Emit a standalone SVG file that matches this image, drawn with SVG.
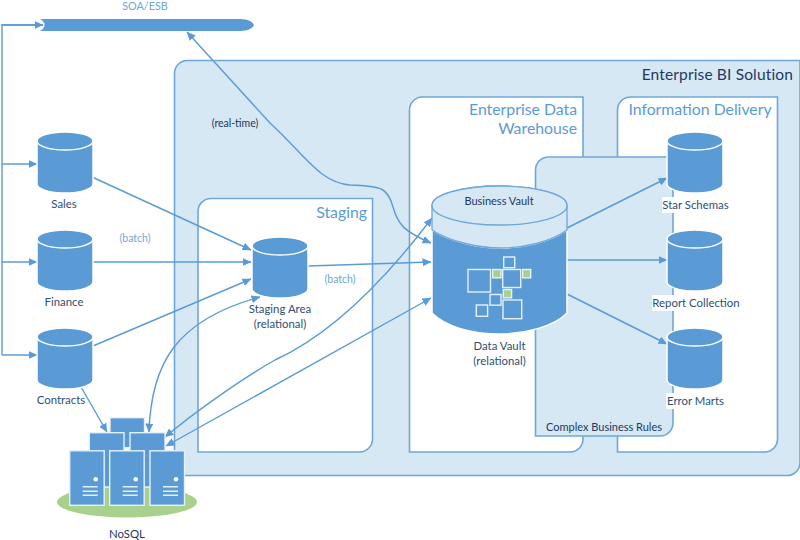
<svg xmlns="http://www.w3.org/2000/svg" width="800" height="540" viewBox="0 0 800 540">
<style>
text{font-family:Lato,"Open Sans","Liberation Sans",sans-serif}
.zone{fill:#fff;stroke:#6fa6d9;stroke-width:1.6}
.lz{fill:#d6e8f3;stroke:#6fa6d9;stroke-width:1.6}
.head{fill:#5b9bd5;font-size:15.8px}
.lab{fill:#2f4e74;font-size:11.400px;text-anchor:middle}
.dark{fill:#1f3864;font-size:11px;text-anchor:middle}
.batch{fill:#6fa6d9;font-size:10.500px;text-anchor:middle}
.c{fill:#5b9bd5;stroke:#fff;stroke-width:1.5}
.s{fill:#5b9bd5;stroke:#e6f0f8;stroke-width:1.4}
.i{fill:none;stroke:#e6f0f8;stroke-width:1.4}
.g{fill:#a9d18e;stroke:#e6f0f8;stroke-width:1.4}
.con{fill:none;stroke:#5b9bd5;stroke-width:1.4;marker-end:url(#a)}
.both{marker-start:url(#b)}
.bus{fill:none;stroke:#7fb0de;stroke-width:1.8}
.sl{stroke:#e6f0f8;stroke-width:1.4}
</style>
<defs>
<marker id="a" markerUnits="userSpaceOnUse" markerWidth="9" markerHeight="8" refX="8.500" refY="4" orient="auto"><path d="M0 0L9 4L0 8z" fill="#5b9bd5"/></marker>
<marker id="b" markerUnits="userSpaceOnUse" markerWidth="9" markerHeight="8" refX="0.500" refY="4" orient="auto"><path d="M9 0L0 4L9 8z" fill="#5b9bd5"/></marker>
<g id="cyl"><path class="c" d="M0 9A28 9 0 0 1 56 9V52A28 9 0 0 1 0 52Z"/><path fill="none" stroke="#fff" stroke-width="1.5" d="M0 9A28 9 0 0 0 56 9"/></g>
<g id="srv"><rect class="s" x="0" y="0" width="34.500" height="54.500"/><circle cx="26" cy="28.500" r="2.300" fill="#fff"/><path class="sl" d="M13 36H28M13 40.500H28M13 44.500H28"/></g>
</defs>

<g id="enterprise-bi"><path class="lz" d="M187 60.500H800V462A13 13 0 0 1 786 475.500H174.500V73A13 13 0 0 1 187 60.500Z"/><text x="793" y="80" text-anchor="end" fill="#1f3864" font-size="15.500" letter-spacing=".15">Enterprise BI Solution</text></g>
<g id="staging"><path class="zone" d="M211 198.500H372.500V439A13 13 0 0 1 360 452H198V211A13 13 0 0 1 211 198.500Z"/><text class="head" x="367" y="218" text-anchor="end">Staging</text></g>
<g id="edw"><path class="zone" d="M422 97H583V439A13 13 0 0 1 570 452H409.500V110A13 13 0 0 1 422 97Z"/><text class="head" x="577" y="115" text-anchor="end">Enterprise Data</text><text class="head" x="577" y="134" text-anchor="end">Warehouse</text></g>
<g id="delivery"><path class="zone" d="M630.500 97H777.500V439A13 13 0 0 1 764.500 452H617.500V110A13 13 0 0 1 630.500 97Z"/><text class="head" x="700" y="115" text-anchor="middle">Information Delivery</text></g>
<g id="business-rules"><path class="lz" d="M548.500 157H673V423A13 13 0 0 1 660 436H535.500V170A13 13 0 0 1 548.500 157Z"/><text class="dark" x="604" y="431">Complex Business Rules</text></g>

<g id="soa-esb"><path fill="#5b9bd5" d="M40 19H240C248 19 253 22 254 25C253 28 248 31 240 31H40C46 28 46 22 40 19Z"/><text x="145" y="10" text-anchor="middle" fill="#6fa6d9" font-size="10.800">SOA/ESB</text></g>

<g id="connectors">
<path class="bus" d="M43 25H2V355"/>
<path class="con" d="M2 25H43"/><path class="con" d="M2 164H37"/><path class="con" d="M2 262H37"/><path class="con" d="M2 355H37"/>
<path class="con" d="M92 177L251 250"/>
<path class="con" d="M93 262H251"/>
<path class="con" d="M93 346L251 279"/>
<path class="con" d="M81 387L107 432"/>
<path class="con both" d="M149 432C151 365 175 320 260 297"/>
<path class="con both" d="M165 437C195 412 240 380 275 360C330 335 385 280 432 218"/>
<path class="con both" d="M166 446L431 298"/>
<path class="con" d="M308 266L431 262"/>
<path class="con both" d="M431 243C405 232 398 225 393 207C388 188 382 186 350 185C320 183 305 155 270 123L187 32"/>
<path class="con" d="M567 228L667 178"/>
<path class="con" d="M567 260H667"/>
<path class="con" d="M567 294L667 344"/>
</g>

<g id="sales"><use href="#cyl" x="37" y="132"/><text class="lab" x="64" y="208">Sales</text></g>
<g id="finance"><use href="#cyl" x="37" y="230"/><text class="lab" x="64" y="306">Finance</text></g>
<g id="contracts"><use href="#cyl" x="37" y="328"/><text class="lab" x="61" y="404">Contracts</text></g>
<g id="staging-area"><use href="#cyl" x="252" y="237"/><text class="lab" x="280" y="313">Staging Area</text><text class="lab" x="280" y="328">(relational)</text></g>
<g id="star-schemas"><use href="#cyl" x="667" y="132"/><rect x="662" y="197" width="68" height="16" fill="#fff"/><text class="lab" x="695.500" y="209">Star Schemas</text></g>
<g id="report-collection"><use href="#cyl" x="667" y="230"/><rect x="652" y="295" width="88" height="16" fill="#fff"/><text class="lab" x="696" y="307">Report Collection</text></g>
<g id="error-marts"><use href="#cyl" x="667" y="328"/><rect x="666" y="393" width="60" height="16" fill="#fff"/><text class="lab" x="695.500" y="405">Error Marts</text></g>

<g id="data-vault">
<path fill="#5b9bd5" stroke="#fff" stroke-width="1.500" d="M432 230C450 242 480 248 500 248C525 248 550 242 567 230V313C555 326 525 334 500 334C470 334 445 326 432 313Z"/>
<path fill="#d6e8f3" stroke="#6fa6d9" stroke-width="1.300" d="M432 205.500V230C450 242 480 248 500 248C525 248 550 242 567 230V205.500A67.500 19.500 0 0 0 432 205.500Z"/>
<ellipse cx="499.500" cy="205.500" rx="67.500" ry="19.500" fill="#d6e8f3" stroke="#6fa6d9" stroke-width="1.300"/>
<rect class="i" x="468" y="269.500" width="22.500" height="22.500"/><rect class="i" x="503.700" y="257" width="11" height="10.700"/><rect class="i" x="502.700" y="269.500" width="18" height="18"/><rect class="g" x="492.700" y="269.500" width="8.300" height="8.300"/><rect class="g" x="522.700" y="269.500" width="8" height="8.300"/><rect class="g" x="503.300" y="289.500" width="8.300" height="8.300"/><rect class="i" x="490" y="294.500" width="11" height="10.700"/><rect class="i" x="476.300" y="305" width="11.300" height="11.300"/><rect class="i" x="503" y="300" width="18.700" height="18.700"/>
<text class="dark" x="499" y="205">Business Vault</text>
<text class="lab" x="499.500" y="350">Data Vault</text><text class="lab" x="499.500" y="365">(relational)</text>
</g>

<g id="nosql">
<ellipse cx="127" cy="502" rx="70" ry="15.500" fill="#a9d18e"/>
<rect class="s" x="110" y="417.700" width="34.500" height="30"/>
<rect class="s" x="89.300" y="432.700" width="34.700" height="54.300"/>
<rect class="s" x="130" y="432.700" width="35" height="54.300"/>
<use href="#srv" x="69.700" y="450.800"/><use href="#srv" x="109.700" y="450.800"/><use href="#srv" x="150" y="450.800"/>
<text class="lab" x="127" y="538" style="fill:#1f3864">NoSQL</text>
</g>

<text class="dark" x="235" y="127" style="font-size:10.500px">(real-time)</text>
<text class="batch" x="135" y="242">(batch)</text>
<text class="batch" x="340" y="283">(batch)</text>
</svg>
